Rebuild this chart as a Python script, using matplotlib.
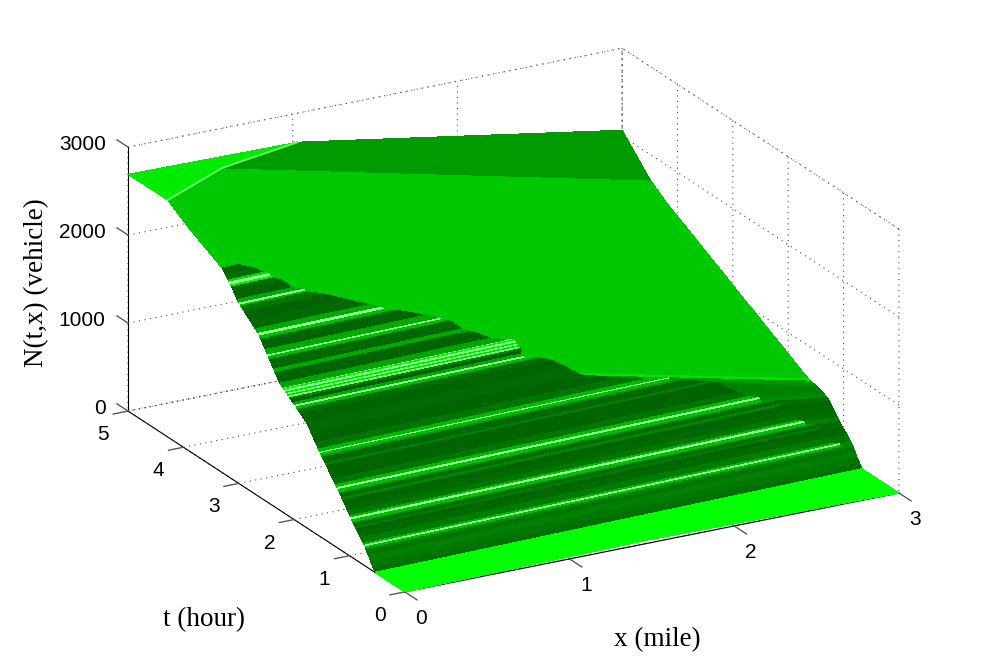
import numpy as np
import matplotlib
matplotlib.use('Agg')
import matplotlib.pyplot as plt

# values, one entry per mesh row going up in t
t_left = [0, .54, .58, .62, .66, .69, .707, .72, .733, .75,
          .80, .85, .88, .90, .93, .942, .957, .975, .99, 1.03,
          1.08, 1.12, 1.14, 1.18, 1.192, 1.207, 1.225, 1.25, 1.30, 1.42,
          1.445, 1.50, 1.515, 1.527, 1.545, 1.57, 1.62, 1.70, 1.71, 1.78,
          1.88, 1.93, 1.952, 1.967, 1.988, 2.02, 2.06, 2.08, 2.10, 2.115,
          2.135, 2.15, 2.175, 2.19, 2.21, 2.26, 2.33, 2.35, 2.37, 2.44,
          2.455, 2.467, 2.487, 2.53, 2.6, 2.614, 2.627, 2.648, 2.7, 2.8,
          2.9, 2.96, 2.975, 2.998, 3.03, 3.1, 3.13, 3.145, 3.17, 3.19,
          3.24, 3.30, 3.34, 3.94, 4.28]
n_left = [0, 0, 48, 96, 144, 180, 200, 216, 230, 242,
          287, 331, 357, 375, 402, 412, 425, 442, 457, 496,
          544, 583, 602, 641, 653, 667, 683, 705, 748, 853,
          875, 923, 936, 946, 963, 990, 1040, 1122, 1132, 1198,
          1249, 1275, 1286, 1293, 1304, 1321, 1341, 1351, 1361, 1369,
          1379, 1387, 1400, 1407, 1417, 1443, 1516, 1537, 1558, 1632,
          1648, 1660, 1681, 1726, 1800, 1814, 1828, 1850, 1880, 1937,
          1994, 2028, 2037, 2050, 2078, 2150, 2181, 2196, 2219, 2235,
          2276, 2324, 2338, 2546, 2695]
x_split = [1.5, 1.5, 1.5, 1.5, 1.5, 1.5, 2.93, 2.93, 2.93, 2.9,
           2.9, 2.9, 2.85, 2.85, 2.85, 2.79, 2.79, 2.79, 2.75, 2.75,
           2.7, 2.7, 2.7, 2.7, 2.6, 2.6, 2.6, 2.55, 2.5, 2.4,
           2.35, 2.2, 2.15, 2.15, 2.15, 2.0, 1.85, 1.65, 1.65, 1.6,
           1.55, 1.5, 1.45, 1.41, 1.41, 1.40, 1.42, 1.42, 1.42, 1.42,
           1.42, 1.42, 1.42, 1.42, 1.38, 1.30, 1.22, 1.18, 1.16, 1.12,
           1.09, 1.07, 1.05, .98, .84, .80, .77, .76, .70, .60,
           .50, .42, .40, .40, .34, .30, .26, .25, .24, .22,
           .18, .10, .03, .03, .03]
t_right = [0, .67, .71, .755, .795, .825, .84, .855, .87, .885,
           .935, .985, 1.015, 1.035, 1.07, 1.08, 1.09, 1.105, 1.125, 1.165,
           1.215, 1.25, 1.27, 1.30, 1.31, 1.32, 1.335, 1.36, 1.40, 1.47,
           1.49, 1.52, 1.535, 1.55, 1.56, 1.58, 1.60, 1.61, 1.63, 1.7,
           1.8, 1.85, 1.88, 1.9, 1.92, 1.96, 2.0, 2.02, 2.04, 2.06,
           2.08, 2.10, 2.13, 2.15, 2.18, 2.25, 2.33, 2.36, 2.38, 2.46,
           2.48, 2.5, 2.52, 2.57, 2.66, 2.69, 2.7, 2.72, 2.8, 2.92,
           3.04, 3.12, 3.14, 3.16, 3.2, 3.3, 3.34, 3.37, 3.4, 3.43,
           3.5, 3.6, 3.65, 4.2, 4.49]
n_right = [0, 0, 48, 96, 144, 180, 200, 210, 225, 240,
           280, 305, 326, 340, 372, 380, 390, 400, 415, 454,
           497, 527, 544, 553, 556, 560, 565, 572, 581, 596,
           600, 606, 610, 612, 615, 618, 620, 621, 628, 649,
           686, 705, 716, 723, 730, 745, 760, 767, 775, 782,
           790, 797, 808, 815, 827, 852, 882, 893, 900, 930,
           938, 945, 952, 971, 1004, 1015, 1019, 1026, 1056, 1100,
           1145, 1174, 1182, 1189, 1204, 1241, 1256, 1267, 1278, 1289,
           1315, 1352, 1371, 1574, 1710]
# brightness of each band, above 255 means it goes towards white
shade_left = [258, 112, 120, 128, 115, 135, 190, 400, 185, 125,
              105, 100, 125, 105, 140, 190, 400, 185, 120, 105,
              100, 135, 108, 150, 190, 400, 185, 118, 100, 130,
              105, 150, 190, 400, 185, 118, 100, 105, 105, 100,
              110, 145, 190, 400, 170, 95, 135, 380, 220, 370,
              230, 390, 240, 390, 165, 100, 105, 170, 105, 130,
              190, 400, 170, 100, 125, 190, 400, 170, 105, 100,
              120, 190, 400, 170, 100, 110, 240, 400, 220, 110,
              100, 200, 200, 200]
shade_right = [258, 112, 120, 128, 115, 135, 140, 140, 120, 118,
               105, 100, 110, 105, 125, 130, 130, 112, 108, 105,
               100, 112, 108, 125, 140, 140, 135, 130, 130, 140,
               140, 150, 150, 150, 150, 155, 155, 225, 200, 200,
               200, 200, 200, 200, 200, 200, 200, 200, 200, 200,
               200, 200, 200, 200, 200, 200, 200, 200, 200, 200,
               200, 200, 200, 200, 200, 200, 200, 200, 200, 200,
               200, 200, 200, 200, 200, 200, 200, 200, 200, 200,
               200, 200, 200, 200]
wave_delay = .045

# the three top patches: x, t, N at their corners
flat_x = [[0, .43], [0, 1.03]]
flat_t = [[4.28, 4.58], [5, 5]]
flat_n = [[2695, 2775], [2690, 2670]]
band_x = [[.43, 3], [1.03, 3]]
band_t = [[4.58, 4.49], [5, 5]]
band_n = [[2775, 1710], [2670, 2068]]
wedge_x = [[0, 3], [.43, 3]]
wedge_t = [[4.28, 4.49], [4.58, 4.49]]
wedge_n = [[2695, 1710], [2775, 1710]]
fold_x = [0, .43, 1.03]
fold_t = [4.28, 4.58, 5]
fold_n = [2695, 2775, 2670]

x_ticks = [0, 1, 2, 3]
t_ticks = [0, 1, 2, 3, 4, 5]
n_ticks = [0, 1000, 2000, 3000]


def to_rgb(g):
    if g <= 255:
        return (0, g / 255, 0)
    v = (g - 255) / 255
    return (v, 1, v)


plt.rcParams['font.family'] = ['Liberation Sans', 'DejaVu Sans']
plt.rcParams['grid.color'] = '0.3'
plt.rcParams['grid.linestyle'] = (0, (1, 4))
plt.rcParams['grid.linewidth'] = 0.8

W, H = 994, 666
size = 827
fig = plt.figure(figsize=(W / 100, H / 100), dpi=100)
ax = fig.add_axes([88.8 / W, -78.7 / H, size / W, size / H],
                  projection='3d', proj_type='ortho', computed_zorder=False)
ax.view_init(elev=21.2, azim=-118.97)
ax.set_xlim(0, 3, view_margin=0)
ax.set_ylim(0, 5, view_margin=0)
ax.set_zlim(0, 3000, view_margin=0)
ax.set_box_aspect((1, 1.012, .5014))

t_l = np.array(t_left)
n_l = np.array(n_left)
x_s = np.array(x_split)
X = np.column_stack([0 * x_s, x_s, 0 * x_s + 3])
T = np.column_stack([t_l, t_l + wave_delay * x_s, t_right])
Z = np.column_stack([n_l, n_l, n_right])
colors = np.array([[to_rgb(a), to_rgb(b)] for a, b in zip(shade_left, shade_right)])
ax.plot_surface(X, T, Z, facecolors=colors, shade=False, rstride=1, cstride=1,
                linewidth=0, antialiased=False, zorder=3)

for px, pt, pn, g in [(wedge_x, wedge_t, wedge_n, 200), (band_x, band_t, band_n, 155),
                      (flat_x, flat_t, flat_n, 235)]:
    ax.plot_surface(np.array(px), np.array(pt), np.array(pn), color=to_rgb(g), shade=False,
                    rstride=1, cstride=1, linewidth=0, antialiased=False, zorder=4)
ax.plot(fold_x, fold_t, fold_n, color='#66f066', lw=1.5, zorder=5)

# outward tick marks, the native ones point the wrong way for this view
for v in x_ticks:
    ax.plot([v, v], [0, -.22], [0, 0], color='0.35', lw=1, zorder=2)
for v in t_ticks:
    ax.plot([0, -.09], [v, v], [0, 0], color='0.35', lw=1, zorder=2)
for v in n_ticks:
    ax.plot([0, 0], [5, 5.2], [v, v], color='0.35', lw=1, zorder=2)

ax.set_xticks(x_ticks)
ax.set_yticks(t_ticks)
ax.set_zticks(n_ticks)
for axis in [ax.xaxis, ax.yaxis, ax.zaxis]:
    axis.pane.set_facecolor((1, 1, 1, 0))
    axis.pane.set_edgecolor('0.3')
    axis.pane.set_linestyle((0, (1, 4)))
    axis.line.set_color('black')
    axis._axinfo['tick']['inward_factor'] = 0
    axis._axinfo['tick']['outward_factor'] = 0
ax.tick_params(labelsize=15)
ax.tick_params(axis='x', pad=4)
ax.tick_params(axis='y', pad=4)
ax.tick_params(axis='z', pad=1)
for lab in ax.xaxis.get_ticklabels():
    lab.set_ha('left')
for lab in ax.yaxis.get_ticklabels():
    lab.set_ha('right')
for lab in ax.zaxis.get_ticklabels():
    lab.set_ha('right')
    lab.set_va('center')

fig.text(657 / W, 1 - 640 / H, 'x (mile)', family='Liberation Serif', fontsize=19.5, ha='center', va='center')
fig.text(204 / W, 1 - 620 / H, 't (hour)', family='Liberation Serif', fontsize=19.5, ha='center', va='center')
fig.text(37 / W, 1 - 283 / H, 'N(t,x) (vehicle)', family='Liberation Serif', fontsize=19.5,
         rotation=90, ha='center', va='center')

fig.savefig('out.png', dpi=100)
